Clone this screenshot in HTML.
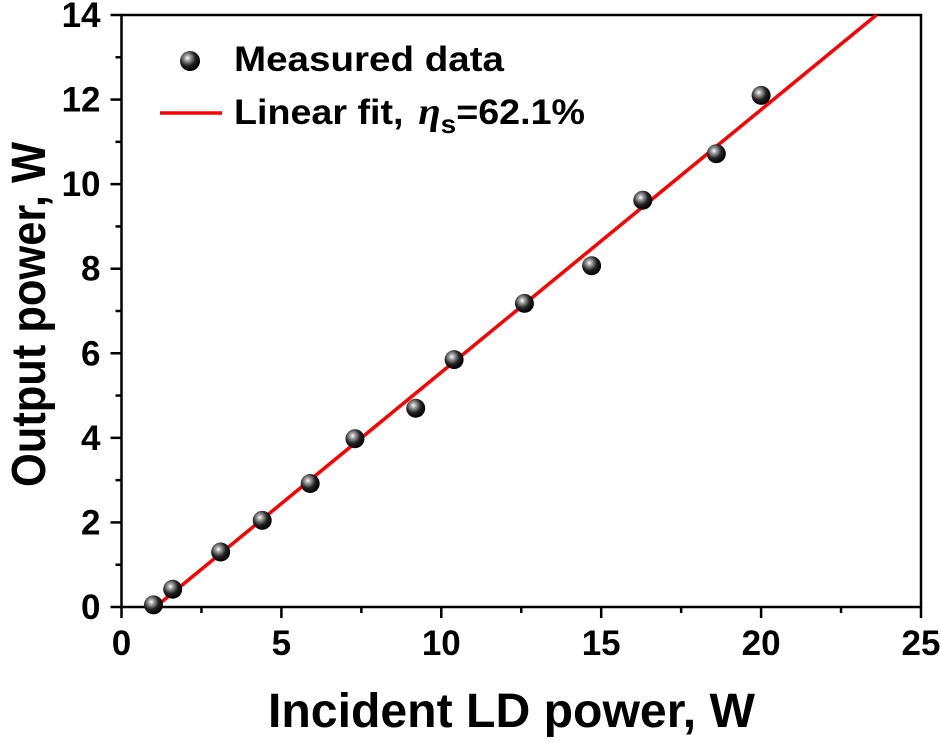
<!DOCTYPE html>
<html><head><meta charset="utf-8"><style>
body{margin:0;background:#fff}
svg text{font-family:"Liberation Sans",Arial,sans-serif;font-weight:bold;fill:#000}
</style></head><body>
<svg id="chart" width="940" height="738" viewBox="0 0 940 738" xmlns="http://www.w3.org/2000/svg">
<defs>
<radialGradient id="ball" cx="0.38" cy="0.35" r="0.65">
<stop offset="0" stop-color="#fff"/><stop offset="0.2" stop-color="#aaa"/><stop offset="0.6" stop-color="#222"/><stop offset="1" stop-color="#000"/>
</radialGradient>
</defs>
<g id="plot"></g>
<text x="268" y="727" font-size="48" textLength="487" lengthAdjust="spacingAndGlyphs">Incident LD power, W</text>
<text transform="translate(45,487) rotate(-90)" font-size="48" textLength="345" lengthAdjust="spacingAndGlyphs">Output power, W</text>
<g>
<circle cx="190" cy="61" r="10" fill="url(#ball)"/>
<text x="234" y="71" font-size="35" textLength="270" lengthAdjust="spacingAndGlyphs">Measured data</text>
<line x1="160" y1="113" x2="222" y2="113" stroke="#f00" stroke-width="3.5"/>
<text x="234" y="124" font-size="35" textLength="351" lengthAdjust="spacingAndGlyphs">Linear fit, <tspan font-style="italic" font-family="Liberation Serif,serif" font-size="38" dx="4">η</tspan><tspan font-size="26" dy="9">s</tspan><tspan dy="-9">=62.1%</tspan></text>
</g>
</svg>
<script>
const xs=[1.0,1.6,3.1,4.4,5.9,7.3,9.2,10.4,12.6,14.7,16.3,18.6,20.0];
const ys=[0.05,0.42,1.3,2.05,2.92,3.98,4.7,5.85,7.18,8.07,9.62,10.72,12.1];
const xTicks=[0,5,10,15,20,25];
const yTicks=[0,2,4,6,8,10,12,14];
const slope=0.621, x0=1.06;
const L=121.5,R=921,T=15,B=607;
const X=v=>L+(v-0)/25*(R-L);
const Y=v=>B-v/14*(B-T);
const g=document.getElementById('plot');
const NS='http://www.w3.org/2000/svg';
function mk(t,a){const e=document.createElementNS(NS,t);for(const k in a)e.setAttribute(k,a[k]);g.appendChild(e);return e;}
let frame=mk('rect',{x:L,y:T,width:R-L,height:B-T,fill:'none',stroke:'#000','stroke-width':2.5});


xTicks.forEach((v,i)=>{
 let t=mk('line',{x1:X(v),x2:X(v),y1:B,y2:B+11,stroke:'#000','stroke-width':2.5});
 
 
 if(i<xTicks.length-1){let m=mk('line',{x1:X(v+2.5),x2:X(v+2.5),y1:B,y2:B+6,stroke:'#000','stroke-width':2.5});
 
 }
 let l=mk('text',{x:X(v),y:B+48,'font-size':35,'text-anchor':'middle'});l.textContent=v;
 
 
});
yTicks.forEach((v,i)=>{
 let t=mk('line',{x1:L-11,x2:L,y1:Y(v),y2:Y(v),stroke:'#000','stroke-width':2.5});
 
 
 if(i<yTicks.length-1){let m=mk('line',{x1:L-6,x2:L,y1:Y(v+1),y2:Y(v+1),stroke:'#000','stroke-width':2.5});
 
 }
 let l=mk('text',{x:L-21,y:Y(v)+12,'font-size':35,'text-anchor':'end'});l.textContent=v;
 
 
});
const xEnd=x0+14/slope;
let fit=mk('line',{x1:X(x0),y1:Y(0),x2:X(xEnd),y2:Y(14),stroke:'#f00','stroke-width':3.5});


xs.forEach((v,i)=>{
 let c=mk('circle',{cx:X(v),cy:Y(ys[i]),r:9.5,fill:'url(#ball)'});
 
 
});
</script>
</body></html>
